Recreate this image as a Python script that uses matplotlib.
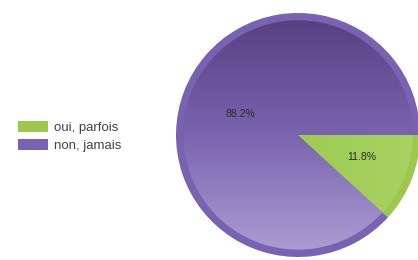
import matplotlib.pyplot as plt
import numpy as np
from matplotlib.colors import LinearSegmentedColormap

labels = ["oui, parfois", "non, jamais"]
values = [11.8, 88.2]
pct_labels = ["11.8%", "88.2%"]

ring_colors = ["#9cc94c", "#7a62b2"]

fig = plt.figure(figsize=(4.18, 2.6), dpi=100)
fig.patch.set_facecolor("white")

cx, cy, r = 298, 135, 122
ax = fig.add_axes([(cx - r) / 418, (260 - cy - r) / 260, 2 * r / 418, 2 * r / 260])

# outer ring
outer, _ = ax.pie(values, colors=ring_colors, startangle=0, counterclock=False,
                  radius=1.0, wedgeprops=dict(linewidth=0))
# inner gradient fill
inner, _ = ax.pie(values, colors=["#9ccb50", "#6a55a0"], startangle=0, counterclock=False,
                  radius=0.94, wedgeprops=dict(linewidth=0))

purple = LinearSegmentedColormap.from_list("p", ["#ae9fd4", "#7a64b0", "#563f7f"])
green = LinearSegmentedColormap.from_list("g", ["#94c448", "#a8d262"])
grad = np.linspace(0, 1, 256).reshape(-1, 1)
im = ax.imshow(grad, extent=(-1, 1, -1, 1), origin="lower", cmap=purple,
               aspect="auto", zorder=3)
im.set_clip_path(inner[1])
gx = np.linspace(0, 1, 256).reshape(1, -1)
im2 = ax.imshow(gx, extent=(-1, 1, -1, 1), origin="lower", cmap=green,
                aspect="auto", zorder=3)
im2.set_clip_path(inner[0])

font = ["Liberation Sans", "DejaVu Sans"]
ax.text(0.52, -0.18, pct_labels[0], fontsize=7.5, color="#2a2a2a", zorder=5,
        ha="center", va="center", family=font)
ax.text(-0.47, 0.17, pct_labels[1], fontsize=7.5, color="#2a2a2a", zorder=5,
        ha="center", va="center", family=font)

for w in outer + inner:
    w.set_clip_on(False)
ax.set_xlim(-1, 1)
ax.set_ylim(-1, 1)
ax.set_aspect("equal")
ax.axis("off")

leg = fig.legend(outer, labels, loc="upper left", bbox_to_anchor=(18 / 418, 1 - 121 / 260),
                 frameon=False, prop=dict(family=font, size=9.5), handlelength=2.3,
                 handleheight=0.85, handletextpad=0.45, labelspacing=0.4,
                 borderpad=0, borderaxespad=0)
for t in leg.get_texts():
    t.set_color("#444444")

fig.savefig("out.png", dpi=100)
